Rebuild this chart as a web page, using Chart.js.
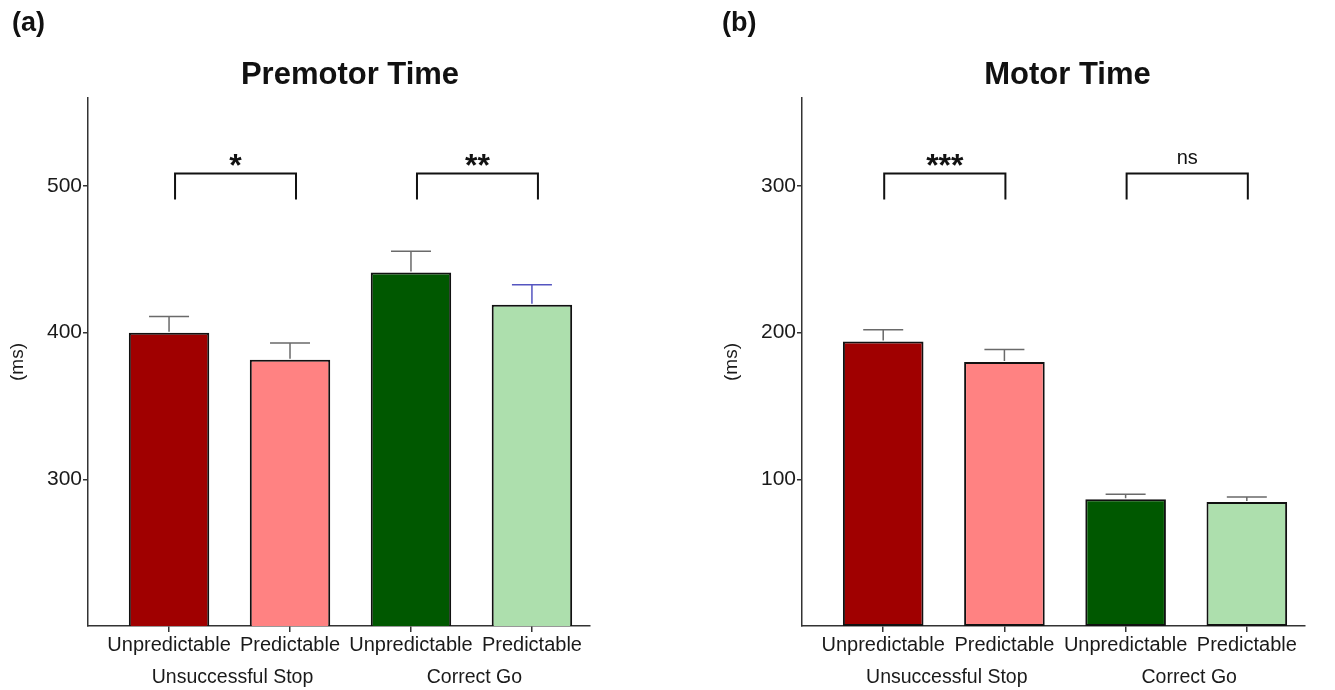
<!DOCTYPE html>
<html><head><meta charset="utf-8">
<script src="https://cdn.jsdelivr.net/npm/chart.js@4"></script>
<style>
html,body{margin:0;padding:0;background:#fff;}
#wrap{position:relative;width:1335px;height:690px;overflow:hidden;}
canvas{position:absolute;top:0;}
#c1{left:0}
#c2{left:668px}
</style></head><body>
<div id="wrap"><canvas id="c1" width="668" height="690"></canvas><canvas id="c2" width="667" height="690"></canvas></div>
<script>
const conditions = ['Unpredictable','Predictable','Unpredictable','Predictable'];
const groups = ['Unsuccessful Stop','Correct Go'];
const premotorMeans = [400, 381.5, 441, 419];
const premotorSem = [11, 11.5, 14.5, 13.7];
const motorMeans = [194, 180, 86.5, 84.5];
const motorSem = [8, 8.5, 3.3, 3.5];
const premotorTicks = [300, 400, 500];
const motorTicks = [100, 200, 300];
const premotorSig = [{from:0, to:1, label:'*'}, {from:2, to:3, label:'**'}];
const motorSig = [{from:0, to:1, label:'***'}, {from:2, to:3, label:'ns'}];
const barColors = ['#a00000','#ff8282','#005800','#addfad'];

const FONT = "'Liberation Sans', Arial, sans-serif";
Chart.defaults.font.family = FONT;
Chart.defaults.color = '#1a1a1a';

const decor = {
  id: 'decor',
  afterDatasetsDraw(chart, args, o) {
    const ctx = chart.ctx, xs = chart.scales.x, ys = chart.scales.y;
    ctx.save();
    o.means.forEach((m, i) => {
      const x = xs.getPixelForValue(i);
      const y0 = ys.getPixelForValue(m);
      const y1 = ys.getPixelForValue(m + o.sem[i]);
      ctx.strokeStyle = (o.errColors && o.errColors[i]) || '#6a6a6a';
      ctx.lineWidth = 1.5;
      ctx.beginPath();
      ctx.moveTo(x, y0 - 1); ctx.lineTo(x, y1);
      ctx.moveTo(x - 20, y1); ctx.lineTo(x + 20, y1);
      ctx.stroke();
    });
    o.sig.forEach(s => {
      const xa = xs.getPixelForValue(s.from) + o.brDx;
      const xb = xs.getPixelForValue(s.to) + o.brDx;
      const top = 173.5, bot = 199.5;
      ctx.strokeStyle = '#111'; ctx.lineWidth = 2;
      ctx.beginPath();
      ctx.moveTo(xa, bot); ctx.lineTo(xa, top); ctx.lineTo(xb, top); ctx.lineTo(xb, bot);
      ctx.stroke();
      ctx.fillStyle = '#111';
      ctx.textAlign = 'center'; ctx.textBaseline = 'middle';
      if (s.label === 'ns') {
        ctx.font = '20px ' + FONT;
        ctx.fillText(s.label, (xa + xb) / 2, 158);
      } else {
        ctx.font = 'bold 32px ' + FONT;
        ctx.fillText(s.label, (xa + xb) / 2, 167);
      }
    });
    ctx.restore();
  },
  afterDraw(chart, args, o) {
    const ctx = chart.ctx, xs = chart.scales.x, a = chart.chartArea;
    ctx.save();
    ctx.fillStyle = '#111';
    ctx.textAlign = 'center'; ctx.textBaseline = 'middle';
    ctx.font = 'bold 31px ' + FONT;
    ctx.fillText(o.title, (a.left + a.right) / 2 + o.titleDx, 75);
    ctx.font = '19.5px ' + FONT;
    ctx.fillStyle = '#1a1a1a';
    groups.forEach((g, k) => {
      const x = (xs.getPixelForValue(2 * k) + xs.getPixelForValue(2 * k + 1)) / 2 + 3;
      ctx.fillText(g, x, 678);
    });
    ctx.textAlign = 'left';
    ctx.font = 'bold 27px ' + FONT;
    ctx.fillStyle = '#111';
    ctx.fillText(o.panel, o.panelX, 24);
    ctx.restore();
  }
};

function makeChart(id, means, sem, yMin, yMax, ticks, sig, opts) {
  return new Chart(document.getElementById(id), {
    type: 'bar',
    data: {
      datasets: [{
        data: means.map((v, i) => ({x: i, y: v})),
        backgroundColor: barColors,
        borderColor: '#111',
        borderWidth: 2,
        borderSkipped: false,
        barPercentage: 0.665,
        categoryPercentage: 1
      }]
    },
    options: {
      responsive: false,
      animation: false,
      devicePixelRatio: 1,
      layout: {padding: {left: opts.padL, right: opts.padR, top: 98, bottom: 0}},
      plugins: {
        legend: {display: false},
        tooltip: {enabled: false},
        decor: {means, sem, sig, title: opts.title, titleDx: opts.titleDx, brDx: opts.brDx,
                panel: opts.panel, panelX: opts.panelX, errColors: opts.errColors}
      },
      scales: {
        x: {
          type: 'linear', min: -0.67, max: 3.48, offset: false,
          afterBuildTicks: s => { s.ticks = conditions.map((c, i) => ({value: i})); },
          afterFit: s => { s.height = 64; },
          grid: {display: true, drawOnChartArea: false, drawTicks: true, tickLength: 6, color: '#333', lineWidth: 1.5, offset: false},
          border: {display: true, color: '#333', width: 1.5},
          ticks: {callback: v => conditions[v] ?? '', font: {size: 20}, color: '#1a1a1a', padding: 1, maxRotation: 0, autoSkip: false}
        },
        y: {
          type: 'linear', min: yMin, max: yMax,
          afterBuildTicks: s => { s.ticks = ticks.map(v => ({value: v})); },
          afterFit: s => { s.width = 88; },
          grid: {display: true, drawOnChartArea: false, drawTicks: true, tickLength: 5, color: '#333', lineWidth: 1.5},
          border: {display: true, color: '#333', width: 1.5},
          ticks: {font: {size: 21}, color: '#1a1a1a', padding: 1},
          title: {display: true, text: '(ms)', font: {size: 19}, color: '#1a1a1a', padding: {top: 6, bottom: 0}}
        }
      }
    },
    plugins: [decor]
  });
}

makeChart('c1', premotorMeans, premotorSem, 200, 560, premotorTicks, premotorSig,
  {padL: 0, padR: 78, title: 'Premotor Time', titleDx: 11, brDx: 6, panel: '(a)', panelX: 12,
   errColors: ['#6a6a6a','#6a6a6a','#6a6a6a','#5555c0']});
makeChart('c2', motorMeans, motorSem, 0, 360, motorTicks, motorSig,
  {padL: 46, padR: 30, title: 'Motor Time', titleDx: 14, brDx: 1, panel: '(b)', panelX: 54});
</script>
</body></html>
